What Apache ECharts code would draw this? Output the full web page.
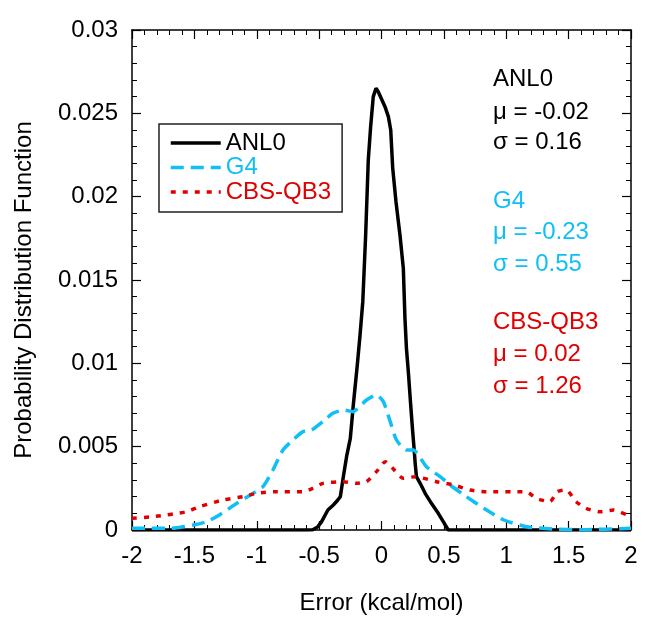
<!DOCTYPE html>
<html>
<head>
<meta charset="utf-8">
<script src="https://cdn.jsdelivr.net/npm/echarts@6/dist/echarts.min.js"></script>
<style>
html,body{margin:0;padding:0;background:#fff;}
#chart{width:645px;height:620px;}
</style>
</head>
<body>
<div id="chart"></div>
<script>
// ---- data ----
var xTicks = ['-2','-1.5','-1','-0.5','0','0.5','1','1.5','2'];
var yTicks = ['0','0.005','0.01','0.015','0.02','0.025','0.03'];

var anl0X = [-2, -0.6, -0.55, -0.51, -0.48, -0.43, -0.386, -0.35, -0.33, -0.306, -0.28, -0.25, -0.226, -0.194, -0.172, -0.15, -0.127, -0.106, -0.087, -0.066, -0.044, -0.026, 0.028, 0.055, 0.074, 0.09, 0.116, 0.148, 0.175, 0.188, 0.2, 0.215, 0.234, 0.25, 0.26, 0.27, 0.28, 0.31, 0.35, 0.40, 0.455, 0.495, 0.535, 2];
var anl0Y = [0, 0, 0.00002, 0.0002, 0.0005, 0.0012, 0.0015, 0.0018, 0.0020, 0.0032, 0.0044, 0.0055, 0.0075, 0.0099, 0.0117, 0.0137, 0.0177, 0.0222, 0.0242, 0.0260, 0.0265, 0.0263, 0.0254, 0.0248, 0.0240, 0.0217, 0.0197, 0.0177, 0.0157, 0.0127, 0.0109, 0.0095, 0.0075, 0.0059, 0.0050, 0.0040, 0.0032, 0.0028, 0.0022, 0.0016, 0.0010, 0.0005, 0, 0];

var g4X = [-2, -1.85, -1.69, -1.51, -1.40, -1.30, -1.16, -1.03, -0.95, -0.87, -0.79, -0.71, -0.63, -0.56, -0.47, -0.39, -0.30, -0.23, -0.12, -0.04, 0.015, 0.07, 0.12, 0.20, 0.255, 0.36, 0.47, 0.55, 0.68, 0.82, 0.98, 1.16, 1.38, 1.6, 2];
var g4Y = [0.0001, 0.0001, 0.0001, 0.0003, 0.0005, 0.0009, 0.0016, 0.0022, 0.0026, 0.0036, 0.0048, 0.0054, 0.0059, 0.0060, 0.0065, 0.0070, 0.0072, 0.0071, 0.0078, 0.0081, 0.0077, 0.0065, 0.0054, 0.0048, 0.0048, 0.0038, 0.0032, 0.0027, 0.0020, 0.0013, 0.0006, 0.0002, 0.00005, 0.00002, 0.0001];

var cbsX = [-2.0, -1.83, -1.56, -1.46, -1.27, -1.11, -1.0, -0.84, -0.63, -0.55, -0.47, -0.31, -0.20, -0.12, -0.04, 0.03, 0.09, 0.175, 0.27, 0.44, 0.58, 0.71, 0.84, 1.16, 1.24, 1.35, 1.41, 1.48, 1.56, 1.64, 1.75, 1.86, 2.0];
var cbsY = [0.0007, 0.0008, 0.0011, 0.0014, 0.0018, 0.0020, 0.0022, 0.0023, 0.0023, 0.0025, 0.0028, 0.0029, 0.0028, 0.0029, 0.0035, 0.0041, 0.0037, 0.0031, 0.0032, 0.0029, 0.0027, 0.0024, 0.0023, 0.0023, 0.0019, 0.0017, 0.0023, 0.0024, 0.0017, 0.0013, 0.0011, 0.0012, 0.0008];

var seriesNames = ['ANL0', 'G4', 'CBS-QB3'];
var statLines = [
  ['ANL0', '\u03bc = -0.02', '\u03c3 = 0.16'],
  ['G4', '\u03bc = -0.23', '\u03c3 = 0.55'],
  ['CBS-QB3', '\u03bc = 0.02', '\u03c3 = 1.26']
];

// ---- build ----
var FONT = '"Liberation Sans", Arial, Helvetica, sans-serif';
var BLACK = '#000000', CYAN = '#10bff5', RED = '#e00000';
var colors = [BLACK, CYAN, RED];

function pairs(xs, ys) { return xs.map(function (x, i) { return [x, ys[i]]; }); }

var chart = echarts.init(document.getElementById('chart'));

function axisCommon() {
  return {
    axisLine: { show: true, onZero: false, lineStyle: { color: '#000', width: 1.5 } },
    axisTick: { show: true, inside: true, length: 9, lineStyle: { color: '#000', width: 1.2 } },
    minorTick: { show: true, splitNumber: 5, length: 5, lineStyle: { color: '#000', width: 1 } },
    splitLine: { show: false },
    minorSplitLine: { show: false }
  };
}

var xBottom = Object.assign(axisCommon(), {
  type: 'value', position: 'bottom', min: -2, max: 2, interval: 0.5,
  name: 'Error (kcal/mol)', nameLocation: 'middle', nameGap: 61,
  nameTextStyle: { fontSize: 24, fontFamily: FONT, color: '#000' },
  axisLabel: { show: true, margin: 14, fontSize: 24, fontFamily: FONT, color: '#000',
    formatter: function (v) { var i = Math.round((v + 2) / 0.5); return xTicks[i] !== undefined ? xTicks[i] : ''; } }
});
var xTop = Object.assign(axisCommon(), {
  type: 'value', position: 'top', min: -2, max: 2, interval: 0.5, axisLabel: { show: false }
});
var yLeft = Object.assign(axisCommon(), {
  type: 'value', position: 'left', min: 0, max: 0.03, interval: 0.005,
  name: 'Probability Distribution Function', nameLocation: 'middle', nameGap: 96,
  nameTextStyle: { fontSize: 24, fontFamily: FONT, color: '#000', padding: [0, 0, 0, -20] },
  axisLabel: { show: true, margin: 14, fontSize: 24, fontFamily: FONT, color: '#000',
    formatter: function (v) { var i = Math.round(v / 0.005); return yTicks[i] !== undefined ? yTicks[i] : ''; } }
});
var yRight = Object.assign(axisCommon(), {
  type: 'value', position: 'right', min: 0, max: 0.03, interval: 0.005, axisLabel: { show: false }
});

var graphics = [];
var rowY = [[80, 113, 143], [202, 233, 265], [323, 355, 387]];
statLines.forEach(function (lines, g) {
  lines.forEach(function (t, k) {
    graphics.push({
      type: 'text', left: 493, top: rowY[g][k] - 13,
      style: { text: t, fill: colors[g], font: '24px ' + FONT }
    });
  });
});

var option = {
  animation: false,
  backgroundColor: '#fff',
  grid: { left: 132, right: 14, top: 30, bottom: 87, containLabel: false },
  xAxis: [xBottom, xTop],
  yAxis: [yLeft, yRight],
  legend: {
    left: 159, top: 124, orient: 'vertical',
    itemWidth: 50, itemHeight: 14, itemGap: 0.5,
    padding: [7, 11, 8, 10],
    borderColor: '#222', borderWidth: 1.5, backgroundColor: '#fff',
    itemStyle: { opacity: 0 },
    lineStyle: { width: 3.5 },
    textStyle: { fontSize: 24, fontFamily: FONT },
    data: seriesNames.map(function (n, i) { return { name: n, textStyle: { color: colors[i] } }; })
  },
  graphic: graphics,
  series: [
    { name: seriesNames[0], type: 'line', xAxisIndex: 0, yAxisIndex: 0, symbol: 'none',
      data: pairs(anl0X, anl0Y), lineStyle: { color: BLACK, width: 3.5 }, itemStyle: { color: BLACK } },
    { name: seriesNames[1], type: 'line', xAxisIndex: 0, yAxisIndex: 0, symbol: 'none', smooth: 0.2,
      data: pairs(g4X, g4Y), lineStyle: { color: CYAN, width: 3.5, type: [13, 7] }, itemStyle: { color: CYAN } },
    { name: seriesNames[2], type: 'line', xAxisIndex: 0, yAxisIndex: 0, symbol: 'none', smooth: 0.2,
      data: pairs(cbsX, cbsY), lineStyle: { color: RED, width: 3.5, type: [5, 7] }, itemStyle: { color: RED } }
  ]
};
chart.setOption(option);
</script>
</body>
</html>
